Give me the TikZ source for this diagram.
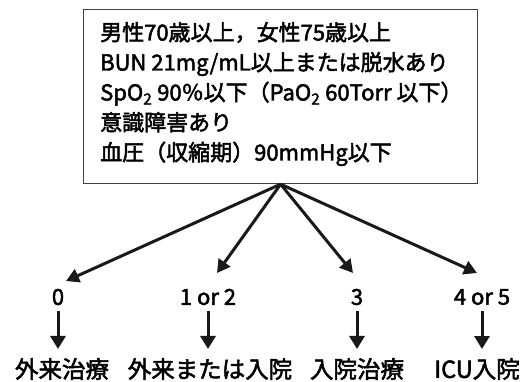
\documentclass[tikz,border=0pt]{standalone}
\usepackage{fontspec}
\setmainfont{Noto Sans CJK JP}[RawFeature={embolden=2.2}]
\usetikzlibrary{arrows.meta}
\begin{document}
\begin{tikzpicture}[x=1pt,y=-1pt,
 every node/.style={inner sep=0pt},
 crit/.style={font=\fontsize{22}{30}\selectfont, align=left, anchor=west},
 score/.style={font=\fontsize{22}{24}\selectfont},
 dest/.style={font=\fontsize{23.5}{26}\selectfont},
 bigarrow/.style={line width=3pt, draw=black!90, -{Triangle[length=13pt,width=14pt]}},
 smallarrow/.style={line width=3pt, draw=black!90, -{Triangle[length=13pt,width=15pt]}, shorten <=6pt, shorten >=9pt},
 ]
\useasboundingbox (0,0) rectangle (522,381);
\node[draw=black!75, line width=1.2pt, minimum width=394pt, minimum height=174pt, anchor=north west] (box) at (83,9) {};
\node[crit] (txt) at (100,94) {男性70歳以上，女性75歳以上\\BUN 21mg/mL以上または脱水あり\\SpO\textsubscript{2} 90％以下（PaO\textsubscript{2} 60Torr 以下）\\意識障害あり\\血圧（収縮期）90mmHg以下};
\node[score] (n0) at (58,297) {0};
\node[score] (n1) at (208,297) {1 or 2};
\node[score] (n2) at (357,297) {3};
\node[score] (n3) at (482,297) {4 or 5};
\node[dest] (b0) at (62,369) {外来治療};
\node[dest] (b1) at (210,369) {外来または入院};
\node[dest] (b2) at (357,369) {入院治療};
\node[dest] (b3) at (477,369) {ICU入院};
\coordinate (t0) at (66,281);
\coordinate (t1) at (217,273);
\coordinate (t2) at (353,273);
\coordinate (t3) at (477,273);
\foreach \i in {0,1,2,3} {
  \draw[bigarrow] (box.south) -- (t\i);
  \draw[smallarrow] (n\i.south) -- (n\i.south |- b\i.north);
}
\end{tikzpicture}
\end{document}
